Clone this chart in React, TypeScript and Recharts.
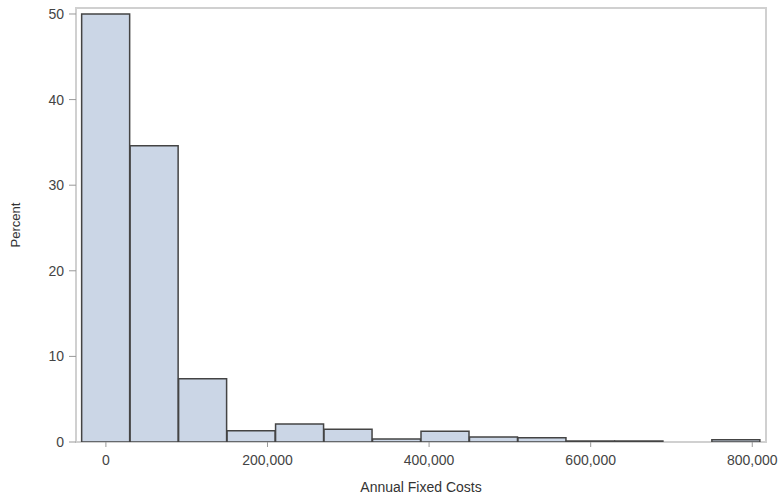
import { BarChart, Bar, XAxis, YAxis, ReferenceArea } from 'recharts';

// bin midpoints (bin width 60,000) and percent per bin
const binMids = [0, 60000, 120000, 180000, 240000, 300000, 360000, 420000, 480000, 540000, 600000, 660000, 720000, 780000];
const percents = [50, 34.6, 7.4, 1.3, 2.1, 1.5, 0.35, 1.25, 0.58, 0.5, 0.12, 0.12, 0, 0.27];
const xTicks = [0, 200000, 400000, 600000, 800000];
const yTicks = [0, 10, 20, 30, 40, 50];

const data = binMids.map((mid, i) => ({ mid, percent: percents[i] }));

const X_DOMAIN: [number, number] = [-37000, 817000];
const Y_MAX = 50.7;
const font = '"Liberation Sans", Arial, sans-serif';

function PercentLabel(props: any) {
  const vb = props.viewBox || { x: 0, y: 8, width: 76, height: 434 };
  const cx = 15;
  const cy = vb.y + vb.height / 2;
  return (
    <text
      x={cx}
      y={cy}
      transform={`rotate(-90, ${cx}, ${cy})`}
      textAnchor="middle"
      dominantBaseline="central"
      fill="#333"
      fontSize={13}
    >
      Percent
    </text>
  );
}

export default function App() {
  return (
    <div style={{ width: 782, height: 496, background: '#fff' }}>
      <style>{'body{margin:0}'}</style>
      <BarChart
        width={782}
        height={496}
        data={data}
        barCategoryGap={0}
        margin={{ top: 8, right: 16, left: 0, bottom: 0 }}
        style={{ fontFamily: font }}
      >
        <ReferenceArea
          x1={X_DOMAIN[0]}
          x2={X_DOMAIN[1]}
          y1={0}
          y2={Y_MAX}
          fill="none"
          stroke="#d0d0d0"
          strokeWidth={2}
          ifOverflow="visible"
        />
        <XAxis
          dataKey="mid"
          type="number"
          domain={X_DOMAIN}
          ticks={xTicks}
          allowDataOverflow
          axisLine={false}
          tickSize={5}
          tickMargin={8}
          tickLine={{ stroke: '#999' }}
          tick={{ fill: '#444', fontSize: 14 }}
          tickFormatter={(v: number) => v.toLocaleString('en-US')}
          height={54}
          label={{ value: 'Annual Fixed Costs', position: 'insideBottom', offset: 4, fill: '#333', fontSize: 14 }}
        />
        <YAxis
          type="number"
          domain={[0, Y_MAX]}
          ticks={yTicks}
          allowDataOverflow
          axisLine={false}
          tickSize={7}
          tickMargin={5}
          tickLine={{ stroke: '#999' }}
          tick={{ fill: '#444', fontSize: 14 }}
          width={76}
          label={{ content: PercentLabel }}
        />
        <Bar
          dataKey="percent"
          fill="#cbd6e6"
          stroke="#444"
          strokeWidth={1.5}
          isAnimationActive={false}
        />
      </BarChart>
    </div>
  );
}
